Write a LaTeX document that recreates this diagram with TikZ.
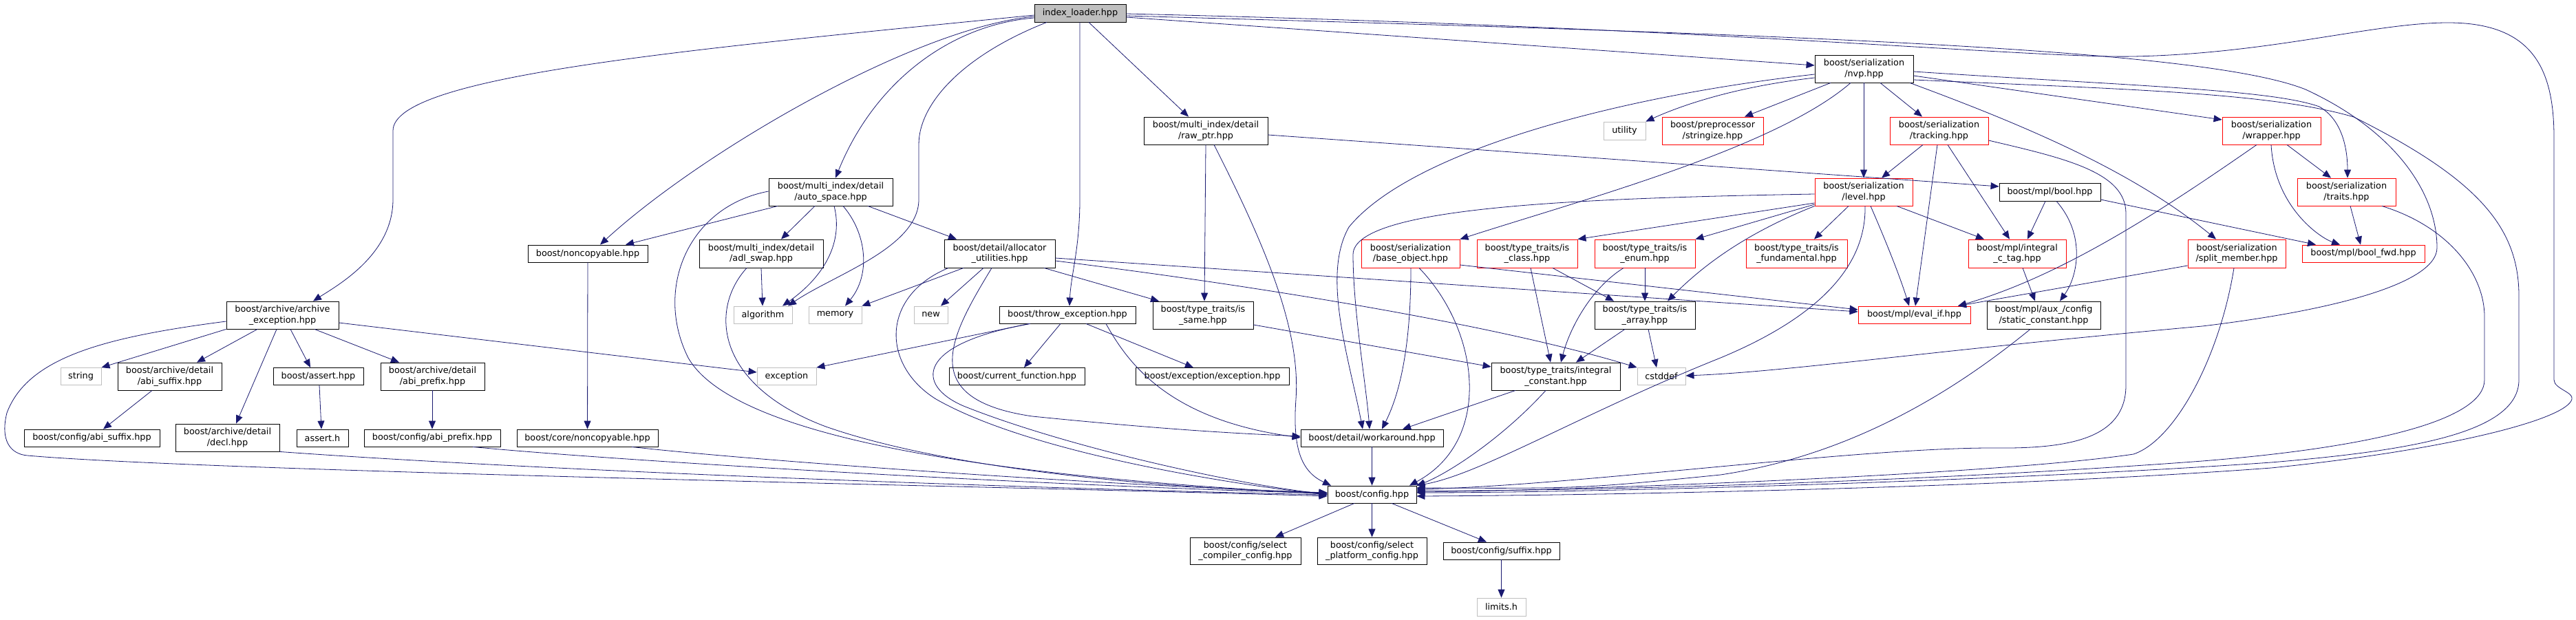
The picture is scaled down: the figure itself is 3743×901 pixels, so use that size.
\documentclass[tikz,border=0pt]{standalone}
\usepackage{fontspec}
\setmainfont{DejaVu Sans}
\usetikzlibrary{arrows.meta}
\definecolor{edgeblue}{HTML}{191970}
\definecolor{sysgray}{HTML}{BFBFBF}
\definecolor{redbox}{HTML}{FF0000}
\tikzset{
  bx/.style={draw=black, line width=0.85pt, inner sep=0pt, align=center, font=\fontsize{12.8}{15.3}\selectfont},
  bk/.style={bx},
  rd/.style={bx, draw=redbox},
  gr/.style={bx, draw=sysgray},
  e/.style={draw=edgeblue, line width=0.8pt, -{Triangle[length=12pt,width=10pt]}},
}
\begin{document}
\begin{tikzpicture}[x=1pt,y=-1pt]
\useasboundingbox (0,0) rectangle (3743,901);
\fill[white] (0,0) rectangle (3743,901);
% nodes
\node[bk, fill=sysgray, minimum width=133, minimum height=26] (il) at (1569.5,19) {index\_loader.hpp};
\node[bk, minimum width=143, minimum height=40] (nvp) at (2708.5,100) {boost/serialization\\/nvp.hpp};
\node[bk, minimum width=180, minimum height=40] (rawptr) at (1752,190) {boost/multi\_index/detail\\/raw\_ptr.hpp};
\node[gr, minimum width=61, minimum height=26] (utility) at (2360.5,190) {utility};
\node[rd, minimum width=147, minimum height=40] (stringize) at (2488.5,190) {boost/preprocessor\\/stringize.hpp};
\node[rd, minimum width=143, minimum height=40] (tracking) at (2817.5,190) {boost/serialization\\/tracking.hpp};
\node[rd, minimum width=143, minimum height=40] (wrapper) at (3300.5,190) {boost/serialization\\/wrapper.hpp};
\node[bk, minimum width=180, minimum height=40] (autospace) at (1207,279) {boost/multi\_index/detail\\/auto\_space.hpp};
\node[rd, minimum width=142, minimum height=40] (level) at (2708,279) {boost/serialization\\/level.hpp};
\node[bk, minimum width=147, minimum height=26] (boolh) at (2978.5,279) {boost/mpl/bool.hpp};
\node[rd, minimum width=143, minimum height=40] (traits) at (3409.5,279) {boost/serialization\\/traits.hpp};
\node[bk, minimum width=174, minimum height=25] (noncopy) at (854,368.5) {boost/noncopyable.hpp};
\node[bk, minimum width=180, minimum height=41] (adlswap) at (1106,368.5) {boost/multi\_index/detail\\/adl\_swap.hpp};
\node[bk, minimum width=161, minimum height=41] (alloc) at (1452.5,368.5) {boost/detail/allocator\\\_utilities.hpp};
\node[rd, minimum width=143, minimum height=41] (baseobj) at (2049.5,368.5) {boost/serialization\\/base\_object.hpp};
\node[rd, minimum width=146, minimum height=41] (isclass) at (2219,368.5) {boost/type\_traits/is\\\_class.hpp};
\node[rd, minimum width=146, minimum height=41] (isenum) at (2390,368.5) {boost/type\_traits/is\\\_enum.hpp};
\node[rd, minimum width=147, minimum height=41] (isfund) at (2610.5,368.5) {boost/type\_traits/is\\\_fundamental.hpp};
\node[rd, minimum width=142, minimum height=41] (intctag) at (2931,368.5) {boost/mpl/integral\\\_c\_tag.hpp};
\node[rd, minimum width=142, minimum height=41] (split) at (3250,368.5) {boost/serialization\\/split\_member.hpp};
\node[rd, minimum width=178, minimum height=25] (boolfwd) at (3434,368.5) {boost/mpl/bool\_fwd.hpp};
\node[bk, minimum width=163, minimum height=40] (archexc) at (410.5,458) {boost/archive/archive\\\_exception.hpp};
\node[gr, minimum width=85, minimum height=25] (algorithm) at (1108.5,457.5) {algorithm};
\node[gr, minimum width=77, minimum height=25] (memory) at (1213.5,457.5) {memory};
\node[gr, minimum width=49, minimum height=25] (new) at (1352.5,457.5) {new};
\node[bk, minimum width=198, minimum height=25] (throwexc) at (1551,457.5) {boost/throw\_exception.hpp};
\node[bk, minimum width=146, minimum height=40] (issame) at (1748,458) {boost/type\_traits/is\\\_same.hpp};
\node[bk, minimum width=146, minimum height=40] (isarray) at (2390,458) {boost/type\_traits/is\\\_array.hpp};
\node[rd, minimum width=163, minimum height=25] (evalif) at (2781.5,457.5) {boost/mpl/eval\_if.hpp};
\node[bk, minimum width=165, minimum height=40] (staticc) at (2969.5,458) {boost/mpl/aux\_/config\\/static\_constant.hpp};
\node[gr, minimum width=59, minimum height=25] (string) at (117.5,547) {string};
\node[bk, minimum width=151, minimum height=40] (arabisuffix) at (246.5,547) {boost/archive/detail\\/abi\_suffix.hpp};
\node[bk, minimum width=131, minimum height=25] (asserthpp) at (462.5,547) {boost/assert.hpp};
\node[bk, minimum width=151, minimum height=40] (arabiprefix) at (628.5,547) {boost/archive/detail\\/abi\_prefix.hpp};
\node[gr, minimum width=86, minimum height=25] (exception) at (1143,547) {exception};
\node[bk, minimum width=197, minimum height=25] (curfunc) at (1477.5,547) {boost/current\_function.hpp};
\node[bk, minimum width=223, minimum height=25] (excexc) at (1761.5,547) {boost/exception/exception.hpp};
\node[bk, minimum width=187, minimum height=40] (intconst) at (2260.5,547) {boost/type\_traits/integral\\\_constant.hpp};
\node[gr, minimum width=70, minimum height=25] (cstddef) at (2414,547) {cstddef};
\node[bk, minimum width=197, minimum height=25] (cfgabisuffix) at (133.5,636.5) {boost/config/abi\_suffix.hpp};
\node[bk, minimum width=151, minimum height=40] (decl) at (330.5,636) {boost/archive/detail\\/decl.hpp};
\node[bk, minimum width=75, minimum height=25] (asserth) at (468.5,636.5) {assert.h};
\node[bk, minimum width=198, minimum height=25] (cfgabiprefix) at (628,636.5) {boost/config/abi\_prefix.hpp};
\node[bk, minimum width=205, minimum height=25] (corenc) at (853.5,636.5) {boost/core/noncopyable.hpp};
\node[bk, minimum width=207, minimum height=25] (workaround) at (1993.5,636.5) {boost/detail/workaround.hpp};
\node[bk, minimum width=129, minimum height=25] (config) at (1993.5,718.5) {boost/config.hpp};
\node[bk, minimum width=161, minimum height=39] (selcomp) at (1809.5,800.5) {boost/config/select\\\_compiler\_config.hpp};
\node[bk, minimum width=159, minimum height=39] (selplat) at (1993.5,800.5) {boost/config/select\\\_platform\_config.hpp};
\node[bk, minimum width=169, minimum height=25] (suffix) at (2181.5,800.5) {boost/config/suffix.hpp};
\node[gr, minimum width=71, minimum height=26] (limits) at (2181.5,882) {limits.h};
% edges from index_loader
\draw[e] (il.west |- 0,22) .. controls (1000,72) and (571,110) .. (571,190) -- (571,290) .. controls (571,370) and (490,415) .. (archexc.north -| 455,0);
\draw[e] (il.west |- 0,24) .. controls (1330,40) and (1020,220) .. (noncopy.north -| 872,0);
\draw[e] (il.west |- 0,26) .. controls (1380,36) and (1270,120) .. (autospace.north -| 1214,0);
\draw[e] (il.south -| 1521,0) .. controls (1400,80) and (1335,150) .. (1335,210) -- (1335,290) .. controls (1335,360) and (1210,400) .. (algorithm.north -| 1145,0);
\draw[e] (il.south -| 1569,0) -- (1569,290) .. controls (1569,360) and (1556,400) .. (throwexc.north -| 1554,0);
\draw[e] (il.south -| 1582,0) -- (rawptr.north -| 1727,0);
\draw[e] (il.east |- 0,25) -- (nvp.west |- 0,95);
\draw[e] (il.east |- 0,20) .. controls (2500,40) and (2950,85) .. (3100,82) .. controls (3300,78) and (3450,33) .. (3557,33) .. controls (3680,33) and (3711,100) .. (3711,200) -- (3711,552) .. controls (3711,565) and (3740,570) .. (3737,580) .. controls (3730,610) and (3550,655) .. (3300,680) .. controls (2900,710) and (2300,720) .. (config.east |- 0,721);
\draw[e] (il.east |- 0,23) .. controls (2600,50) and (3200,70) .. (3350,130) .. controls (3480,190) and (3541,280) .. (3541,360) .. controls (3541,410) and (3400,450) .. (3200,474) .. controls (2800,510) and (2600,540) .. (cstddef.east |- 0,546);
% nvp
\draw[e] (nvp.west |- 0,108) .. controls (2350,140) and (2050,220) .. (1960,330) .. controls (1920,400) and (1960,520) .. (workaround.north -| 1980,0);
\draw[e] (nvp.west |- 0,113) .. controls (2530,125) and (2450,150) .. (utility.north east);
\draw[e] (nvp.south -| 2660,0) -- (stringize.north -| 2535,0);
\draw[e] (nvp.south -| 2689,0) .. controls (2580,215) and (2300,290) .. (baseobj.north east);
\draw[e] (nvp.south -| 2708,0) -- (level.north -| 2708,0);
\draw[e] (nvp.south -| 2732,0) -- (tracking.north -| 2793,0);
\draw[e] (nvp.south -| 2775,0) .. controls (2950,185) and (3100,250) .. (split.north -| 3220,0);
\draw[e] (nvp.east |- 0,110) -- (wrapper.west |- 0,174);
\draw[e] (nvp.east |- 0,104) .. controls (3100,125) and (3300,130) .. (3370,155) .. controls (3405,175) and (3411,220) .. (traits.north -| 3411,0);
\draw[e] (nvp.east |- 0,116) .. controls (3100,130) and (3300,135) .. (3420,170) .. controls (3600,260) and (3660,330) .. (3660,430) -- (3660,552) .. controls (3660,630) and (3500,655) .. (3300,672) .. controls (2900,700) and (2300,716) .. (config.east |- 0,716);
% rawptr
\draw[e] (rawptr.south -| 1752,0) -- (issame.north -| 1750,0);
\draw[e] (rawptr.east |- 0,196) -- (boolh.west |- 0,271);
\draw[e] (rawptr.south -| 1764,0) .. controls (1840,360) and (1890,480) .. (1883,580) .. controls (1878,650) and (1890,685) .. (config.north -| 1934,0);
% tracking
\draw[e] (tracking.south -| 2794,0) -- (level.north -| 2734,0);
\draw[e] (tracking.south -| 2815,0) -- (evalif.north -| 2783,0);
\draw[e] (tracking.south -| 2830,0) -- (intctag.north -| 2920,0);
\draw[e] (tracking.east |- 0,204) .. controls (3000,230) and (3089,250) .. (3089,310) -- (3089,560) .. controls (3089,640) and (3000,652) .. (2900,651) .. controls (2700,650) and (2300,705) .. (config.east |- 0,711);
% wrapper
\draw[e] (wrapper.south -| 3279,0) .. controls (3150,300) and (3000,400) .. (evalif.north -| 2845,0);
\draw[e] (wrapper.south -| 3323,0) -- (traits.north -| 3387,0);
\draw[e] (wrapper.south -| 3300,0) .. controls (3305,300) and (3370,345) .. (boolfwd.north -| 3400,0);
% autospace
\draw[e] (autospace.south -| 1130,0) -- (noncopy.north -| 909,0);
\draw[e] (autospace.south -| 1184,0) -- (adlswap.north -| 1135,0);
\draw[e] (autospace.south -| 1212,0) .. controls (1225,350) and (1200,400) .. (algorithm.north -| 1137,0);
\draw[e] (autospace.south -| 1225,0) .. controls (1260,340) and (1265,400) .. (memory.north -| 1228,0);
\draw[e] (autospace.south -| 1261,0) -- (alloc.north -| 1390,0);
\draw[e] (autospace.west |- 0,278) .. controls (1000,300) and (950,420) .. (1000,520) .. controls (1080,660) and (1600,700) .. (config.west |- 0,718);
% level
\draw[e] (level.west |- 0,282) .. controls (2300,288) and (1966,300) .. (1966,370) .. controls (1966,450) and (1985,560) .. (workaround.north -| 1990,0);
\draw[e] (level.west |- 0,295) -- (isclass.north east);
\draw[e] (level.west |- 0,297) -- (isenum.north east);
\draw[e] (level.south west) .. controls (2560,330) and (2490,370) .. (isarray.north -| 2423,0);
\draw[e] (level.south -| 2686,0) -- (isfund.north -| 2636,0);
\draw[e] (level.south -| 2756,0) -- (intctag.north -| 2883,0);
\draw[e] (level.south -| 2718,0) .. controls (2740,350) and (2760,400) .. (evalif.north -| 2774,0);
\draw[e] (level.south -| 2710,0) .. controls (2712,400) and (2620,470) .. (2500,520) .. controls (2300,600) and (2150,690) .. (config.north east);
% boolh
\draw[e] (boolh.south -| 2972,0) -- (intctag.north -| 2946,0);
\draw[e] (boolh.south -| 2988,0) .. controls (3030,340) and (3020,400) .. (staticc.north -| 2993,0);
\draw[e] (boolh.east |- 0,290) -- (boolfwd.north -| 3365,0);
% traits
\draw[e] (traits.south -| 3415,0) -- (boolfwd.north -| 3430,0);
\draw[e] (traits.south -| 3461,0) .. controls (3560,330) and (3610,400) .. (3610,460) -- (3610,552) .. controls (3610,610) and (3450,650) .. (3200,670) .. controls (2800,700) and (2300,714) .. (config.east |- 0,713);
% noncopy, adlswap
\draw[e] (noncopy) -- (corenc);
\draw[e] (adlswap.south -| 1106,0) -- (algorithm.north -| 1108,0);
\draw[e] (adlswap.south -| 1085,0) .. controls (1030,450) and (1040,560) .. (1200,620) .. controls (1400,690) and (1750,712) .. (config.west |- 0,716);
% alloc
\draw[e] (alloc.south -| 1429,0) -- (new.north -| 1367,0);
\draw[e] (alloc.south -| 1400,0) -- (memory.north east);
\draw[e] (alloc.south -| 1517,0) -- (issame.north -| 1684,0);
\draw[e] (alloc.east |- 0,375) -- (evalif.west |- 0,453);
\draw[e] (alloc.east |- 0,379) .. controls (1900,425) and (2200,480) .. (cstddef.north west);
\draw[e] (alloc.south -| 1441,0) .. controls (1380,490) and (1330,580) .. (1500,605) .. controls (1700,625) and (1800,630) .. (workaround.west |- 0,634);
\draw[e] (alloc.south -| 1378,0) .. controls (1280,430) and (1280,530) .. (1360,580) .. controls (1500,660) and (1800,705) .. (config.west |- 0,719);
% baseobj
\draw[e] (baseobj.south -| 2050,0) .. controls (2050,480) and (2040,560) .. (workaround.north -| 2008,0);
\draw[e] (baseobj.south -| 2062,0) .. controls (2150,480) and (2170,640) .. (config.north -| 2048,0);
\draw[e] (baseobj.east |- 0,385) -- (evalif.west |- 0,450);
% type traits
\draw[e] (isclass.south -| 2224,0) -- (intconst.north -| 2253,0);
\draw[e] (isclass.south -| 2256,0) -- (isarray.north -| 2345,0);
\draw[e] (isenum.south -| 2359,0) .. controls (2310,420) and (2280,480) .. (intconst.north -| 2268,0);
\draw[e] (isenum) -- (isarray);
\draw[e] (isarray.south -| 2361,0) -- (intconst.north -| 2290,0);
\draw[e] (isarray.south -| 2395,0) -- (cstddef.north -| 2407,0);
\draw[e] (intctag.south -| 2939,0) -- (staticc.north -| 2957,0);
\draw[e] (staticc.south -| 2950,0) .. controls (2850,560) and (2700,660) .. (2500,690) .. controls (2300,710) .. (config.east |- 0,709);
\draw[e] (split.west |- 0,386) -- (evalif.north -| 2845,0);
\draw[e] (split.south -| 3246,0) .. controls (3225,520) and (3160,640) .. (3100,660) .. controls (2900,690) and (2300,712) .. (config.east |- 0,715);
% archive
\draw[e] (archexc.south west) -- (string.north east);
\draw[e] (archexc.south -| 374,0) -- (arabisuffix.north -| 286,0);
\draw[e] (archexc.south -| 402,0) -- (decl.north -| 343,0);
\draw[e] (archexc.south -| 422,0) -- (asserthpp.north -| 451,0);
\draw[e] (archexc.south -| 457,0) -- (arabiprefix.north -| 580,0);
\draw[e] (archexc.east |- 0,469) -- (exception.west |- 0,541);
\draw[e] (archexc.west |- 0,467) .. controls (150,490) and (40,520) .. (10,600) .. controls (0,640) and (15,660) .. (40,662) .. controls (300,685) and (1500,708) .. (config.west |- 0,721);
\draw[e] (arabisuffix.south -| 221,0) -- (cfgabisuffix.north -| 150,0);
\draw[e] (asserthpp.south -| 464,0) -- (asserth.north -| 467,0);
\draw[e] (arabiprefix.south -| 628,0) -- (cfgabiprefix.north -| 628,0);
\draw[e] (decl.south east) .. controls (800,685) and (1500,710) .. (config.west |- 0,719);
\draw[e] (cfgabiprefix.south -| 687,0) .. controls (900,670) and (1500,705) .. (config.west |- 0,717);
\draw[e] (corenc.south -| 918,0) .. controls (1100,670) and (1600,705) .. (config.west |- 0,716);
% throw
\draw[e] (throwexc.south -| 1496,0) -- (exception.north east);
\draw[e] (throwexc.south -| 1541,0) -- (curfunc.north -| 1488,0);
\draw[e] (throwexc.south -| 1578,0) -- (excexc.north -| 1734,0);
\draw[e] (throwexc.south -| 1607,0) .. controls (1640,530) and (1700,610) .. (workaround.west |- 0,636);
\draw[e] (throwexc.south -| 1497,0) .. controls (1330,500) and (1330,560) .. (1400,590) .. controls (1550,650) and (1800,705) .. (config.west |- 0,718);
% is_same, integral_constant
\draw[e] (issame.east |- 0,472) -- (intconst.west |- 0,533);
\draw[e] (intconst.south -| 2202,0) -- (workaround.north -| 2038,0);
\draw[e] (intconst.south -| 2246,0) .. controls (2180,640) and (2100,690) .. (config.north east);
% config
\draw[e] (workaround) -- (config);
\draw[e] (config.south -| 1968,0) -- (selcomp.north -| 1853,0);
\draw[e] (config) -- (selplat);
\draw[e] (config.south -| 2022,0) -- (suffix.north -| 2160,0);
\draw[e] (suffix) -- (limits);
\end{tikzpicture}
\end{document}
